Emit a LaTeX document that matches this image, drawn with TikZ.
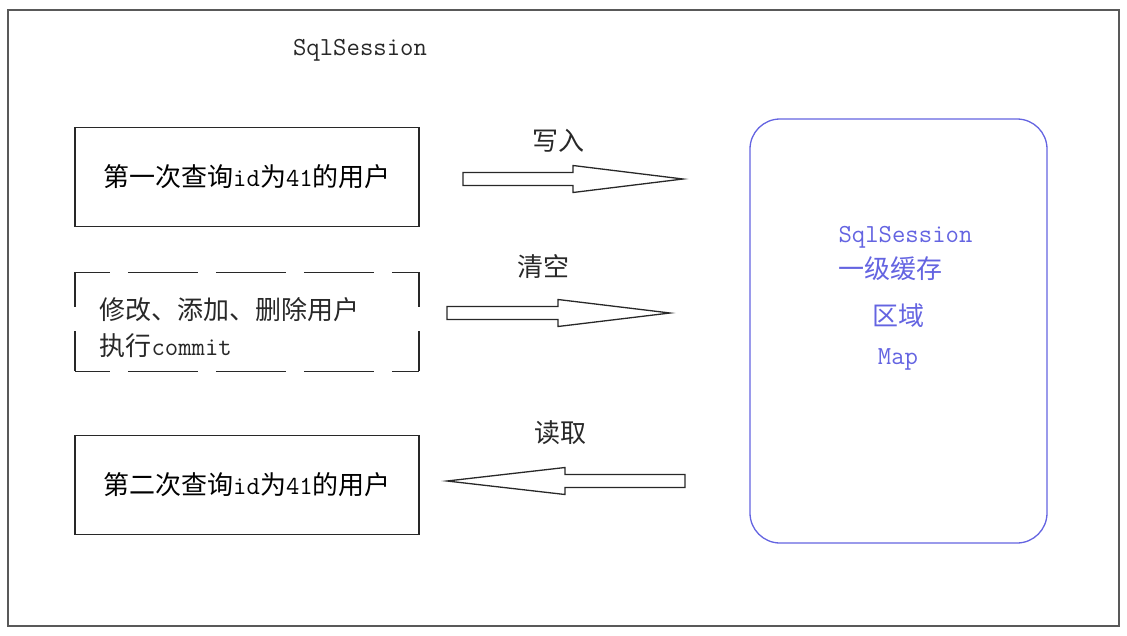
\documentclass[tikz,border=0pt]{standalone}
\usepackage{fontspec}
\newfontfamily\cjk{Noto Sans CJK SC}
\newcommand\zh[1]{{\cjk #1}}
\definecolor{cacheblue}{RGB}{100,100,225}
\definecolor{inkgray}{RGB}{40,40,40}
\tikzset{
  querybox/.style={draw=inkgray,line width=1.5pt,minimum width=344pt,minimum height=99pt},
  dashside/.style={inkgray,line width=1.5pt,dash pattern=on 70pt off 18pt,dash phase=35pt},
  dashend/.style={inkgray,line width=1.5pt,dash pattern=on 40pt off 24pt,dash phase=5pt},
  cachebox/.style={draw=cacheblue,line width=1.3pt,rounded corners=30pt,minimum width=297pt,minimum height=424pt},
  fatarrow/.style={draw=inkgray,line width=1.3pt,fill=white},
  label/.style={text=inkgray}
}
\newcommand\fatarrow[4]{% y, tail, head base, tip
  \draw[fatarrow,shift={(0,#1)}] (#2,-6.5) -- (#3,-6.5) -- (#3,-13.5) -- (#4,0)
    -- (#3,13.5) -- (#3,6.5) -- (#2,6.5) -- cycle;}
\begin{document}
\begin{tikzpicture}[x=1pt,y=-1pt,font=\fontsize{26}{36}\selectfont\ttfamily]
                \useasboundingbox (0,0) rectangle (1127,635);
                \draw[line width=1.5pt,white!35!black] (8,10) rectangle (1119,626);
                \node[label] (session) at (360,50) {SqlSession};

                \node[querybox] (first) at (247,177) {\zh{第一次查询}id\zh{为}41\zh{的用户}};
                \node[minimum width=344pt,minimum height=99pt] (update) at (247,322) {};
                \draw[dashside] (update.north west) -- (update.north east);
                \draw[dashside] (update.south west) -- (update.south east);
                \draw[dashend] (update.north west) -- (update.south west);
                \draw[dashend] (update.north east) -- (update.south east);
                \node[label,anchor=west,align=left] (updatetxt) at (96,328) {\zh{修改、添加、删除用户}\\\zh{执行}commit};
                \node[querybox] (second) at (247,485) {\zh{第二次查询}id\zh{为}41\zh{的用户}};

                \node[cachebox] (cache) at (898.5,331) {};
                \node[text=cacheblue,anchor=west,align=left] (cachetitle) at (835,253) {SqlSession\\\zh{一级缓存}};
                \node[text=cacheblue] (area) at (898,316) {\zh{区域}};
                \node[text=cacheblue] (map) at (898,359) {Map};

                \fatarrow{179}{463}{573}{683}
                \node[label] (write) at (558,141) {\zh{写入}};
                \fatarrow{313}{447}{558}{670}
                \node[label] (clear) at (543,267) {\zh{清空}};
                \fatarrow{481}{685}{565}{447}
                \node[label] (read) at (560,433) {\zh{读取}};
            \end{tikzpicture}
\end{document}
